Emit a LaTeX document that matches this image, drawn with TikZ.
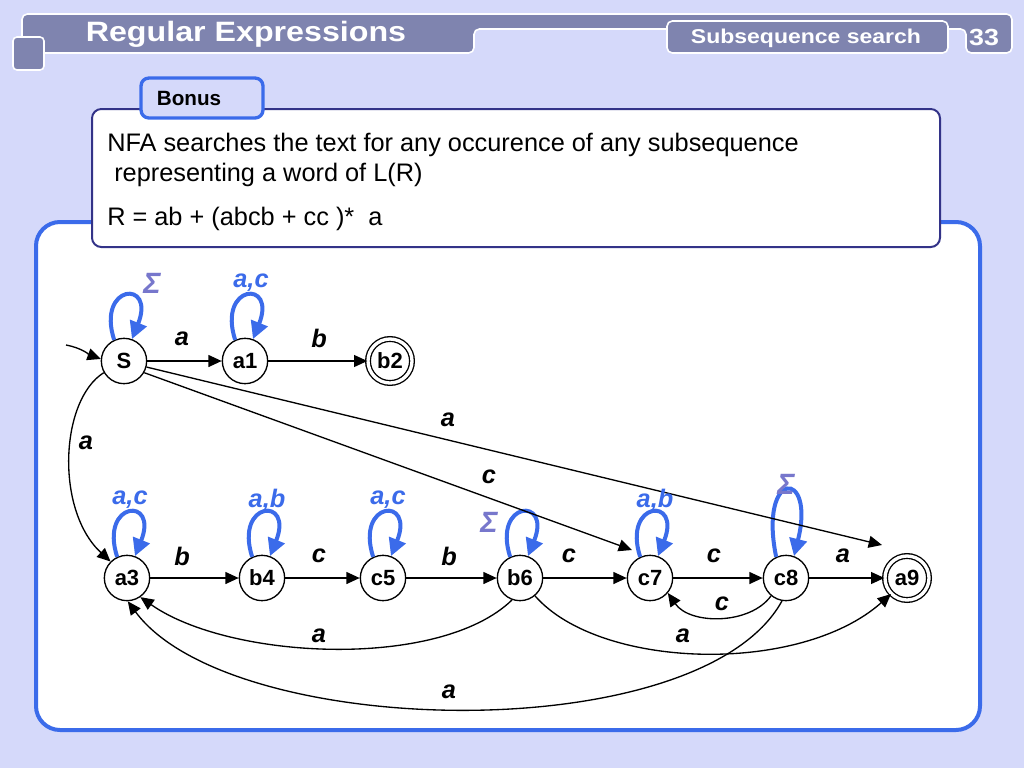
\documentclass[tikz,border=0pt]{standalone}
\usepackage{fontspec}
\setmainfont{Liberation Sans}
\newfontfamily\headfont[FakeStretch=1.15]{Liberation Sans}
\usetikzlibrary{arrows.meta,calc}

\definecolor{pagebg}{RGB}{213,217,250}
\definecolor{headbar}{RGB}{127,132,175}
\definecolor{frameblue}{RGB}{59,107,234}
\definecolor{boxline}{RGB}{51,51,136}
\definecolor{sigmapurple}{RGB}{119,119,204}

\tikzset{
  state/.style={circle, draw, line width=1pt, fill=white, minimum size=34pt, inner sep=0pt, font=\fontsize{16.5}{16.5}\selectfont\bfseries},
  final/.style={state, double, double distance=2.5pt, minimum size=33pt},
  trans/.style={line width=1pt, -{Triangle[length=10pt,width=9pt]}},
  selfloop/.style={frameblue, line width=3pt, -{Triangle[length=13pt,width=13pt]}},
  sym/.style={font=\fontsize{19}{19}\selectfont\bfseries\itshape},
  loopsym/.style={sym, text=frameblue},
  sigmasym/.style={font=\fontsize{22}{22}\selectfont\bfseries\itshape, text=sigmapurple},
  headtext/.style={text=white},
  bodytext/.style={anchor=base west, inner sep=0pt, font=\fontsize{19}{19}\selectfont}
}

\begin{document}
\begin{tikzpicture}[x=0.75pt,y=0.75pt,yscale=-1,xscale=1]
  \useasboundingbox (0,0) rectangle (1024,768);
  \fill[pagebg] (0,0) rectangle (1024,768);
  % header
  \draw[white, line width=1.2pt, fill=headbar, rounded corners=4pt] (22,53) -- (22,14) -- (1012,14) -- (1012,53) -- (966,53) -- (966,29) -- (474,29) -- (474,53) -- cycle;
  \draw[white, line width=1.2pt, fill=headbar, rounded corners=4pt] (667,21) rectangle (948,53);
  \draw[white, line width=1.2pt, fill=headbar, rounded corners=3pt] (13,37) rectangle (44,70);
  \node[headtext, font=\fontsize{21}{21}\headfont\bfseries] (title) at (246,34) {Regular Expressions};
  \node[headtext, font=\fontsize{15}{15}\headfont\bfseries] (topic) at (806,38) {Subsequence search};
  \node[headtext, font=\fontsize{17.5}{17.5}\headfont\bfseries] (pageno) at (984,37) {33};
  % panels
  \draw[frameblue, line width=3pt, fill=white, rounded corners=18pt] (36,222) rectangle (980,730);
  \draw[boxline, line width=1.5pt, fill=white, rounded corners=7pt] (92,109) rectangle (940,247);
  \draw[frameblue, line width=2.5pt, fill=pagebg, rounded corners=6pt] (141,78) rectangle (263,118);
  \node[font=\fontsize{15.5}{15.5}\selectfont\bfseries] (bonus) at (189,98) {Bonus};
  \node[bodytext] (line1) at (107,151) {NFA searches the text for any occurence of any subsequence};
  \node[bodytext] (line2) at (114,181) {representing a word of L(R)};
  \node[bodytext] (line3) at (107,225) {R = ab + (abcb + cc )*\ \ a};
  % states
  \node[state] (S) at (124,361) {S};
  \node[state] (a1) at (245,361) {a1};
  \node[final] (b2) at (390,361) {b2};
  \node[state] (a3) at (127,578) {a3};
  \node[state] (b4) at (262,578) {b4};
  \node[state] (c5) at (383,578) {c5};
  \node[state] (b6) at (520,578) {b6};
  \node[state] (c7) at (650,578) {c7};
  \node[state] (c8) at (786,578) {c8};
  \node[final] (a9) at (907,578) {a9};
  % self loops
  \draw[selfloop] (S.115) .. controls +(-18,-56) and +(24,-60) .. (S.70);
  \draw[selfloop] (a1.115) .. controls +(-18,-56) and +(24,-60) .. (a1.70);
  \draw[selfloop] (a3.115) .. controls +(-18,-56) and +(24,-60) .. (a3.70);
  \draw[selfloop] (b4.115) .. controls +(-18,-56) and +(24,-60) .. (b4.70);
  \draw[selfloop] (c5.115) .. controls +(-18,-56) and +(24,-60) .. (c5.70);
  \draw[selfloop] (b6.115) .. controls +(-18,-56) and +(24,-60) .. (b6.70);
  \draw[selfloop] (c7.115) .. controls +(-18,-56) and +(24,-60) .. (c7.70);
  \draw[selfloop] (c8.115) .. controls +(-18,-88) and +(22,-88) .. (c8.70);
  % transitions
  \coordinate (init) at (66,345);
  \draw[trans] (init) .. controls (82,348) and (90,355) .. (S.175);
  \draw[trans] (S) -- (a1);
  \draw[trans] (a1) -- (b2);
  \draw[trans] (S.210) .. controls (60,400) and (55,510) .. (a3.135);
  \draw[trans] (S.-15) -- ($(a9)+(-25,-33)$);
  \draw[trans] (S.-30) -- ($(c7)+(-18,-28)$);
  \draw[trans] (a3) -- (b4);
  \draw[trans] (b4) -- (c5);
  \draw[trans] (c5) -- (b6);
  \draw[trans] (b6) -- (c7);
  \draw[trans] (c7) -- (c8);
  \draw[trans] (c8) -- (a9);
  \draw[trans] (c8.-130) .. controls (750,625) and (690,625) .. (c7.-40);
  \draw[trans] (b6.-110) .. controls (440,670) and (230,660) .. (a3.-55);
  \draw[trans] (b6.-50) .. controls (600,670) and (800,675) .. (a9.-135);
  \draw[trans] (c8.-100) .. controls (700,750) and (230,740) .. (a3.-88);
  % labels
  \node[sigmasym] (sigS) at (152,283) {Σ};
  \node[loopsym] (la1) at (251,283) {a,c};
  \node[sym] (tSa1) at (182,339) {a};
  \node[sym] (ta1b2) at (319,338) {b};
  \node[sym] (tSa9) at (448,420) {a};
  \node[sym] (tSa3) at (86,443) {a};
  \node[sym] (tSc7) at (489,477) {c};
  \node[loopsym] (la3) at (130,500) {a,c};
  \node[loopsym] (lb4) at (267,500) {a,b};
  \node[loopsym] (lc5) at (388,500) {a,c};
  \node[sigmasym] (sigb6) at (489,522) {Σ};
  \node[loopsym] (lc7) at (655,500) {a,b};
  \node[sigmasym] (sigc8) at (786,484) {Σ};
  \node[sym] (ta3b4) at (182,556) {b};
  \node[sym] (tb4c5) at (319,556) {c};
  \node[sym] (tc5b6) at (449,556) {b};
  \node[sym] (tb6c7) at (569,556) {c};
  \node[sym] (tc7c8) at (714,556) {c};
  \node[sym] (tc8a9) at (843,556) {a};
  \node[sym] (tc8c7) at (722,604) {c};
  \node[sym] (tb6a3) at (319,636) {a};
  \node[sym] (tb6a9) at (683,636) {a};
  \node[sym] (tc8a3) at (449,692) {a};
\end{tikzpicture}
\end{document}
